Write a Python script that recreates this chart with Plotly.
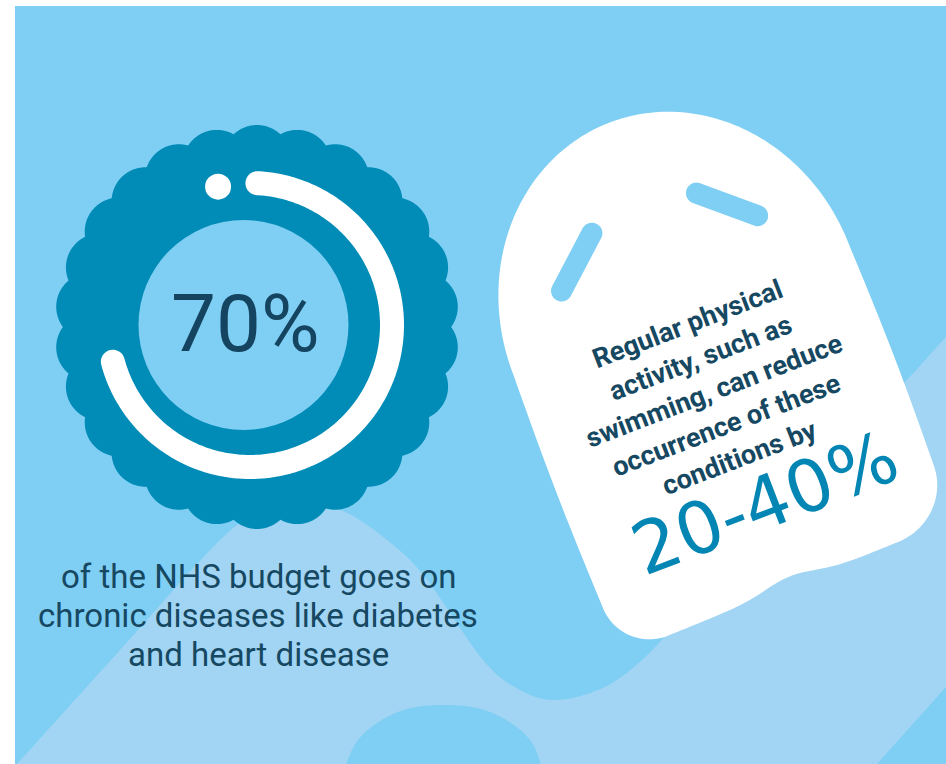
import numpy as np
import plotly.graph_objects as go

# ---------------- data ----------------
nhs_budget_pct = 70                     # share of NHS budget on chronic diseases
reduction_low, reduction_high = 20, 40  # % reduction through regular activity
caption_lines = ["of the NHS budget goes on",
                 "chronic diseases like diabetes",
                 "and heart disease"]
tag_lines = ["Regular physical",
             "activity, such as",
             "swimming, can reduce",
             "occurrence of these",
             "conditions by"]

# ---------------- style ----------------
W, H = 946, 764
BASE = "#7FCEF4"
LIGHT = "#A1D5F3"
DARK_BLUE = "#008CB7"
TEXT_DARK = "#164862"
ACCENT = "#0386B3"


def to_path(pts):
    return "M " + " L ".join(f"{x:.2f},{y:.2f}" for x, y in pts) + " Z"


def catmull_closed(pts, n=20):
    P = np.array(pts, dtype=float)
    m = len(P)
    out = []
    for i in range(m):
        p0, p1, p2, p3 = P[i - 1], P[i], P[(i + 1) % m], P[(i + 2) % m]
        for t in np.linspace(0, 1, n, endpoint=False):
            t2, t3 = t * t, t * t * t
            out.append(0.5 * ((2 * p1) + (-p0 + p2) * t
                              + (2 * p0 - 5 * p1 + 4 * p2 - p3) * t2
                              + (-p0 + 3 * p1 - 3 * p2 + p3) * t3))
    return [tuple(p) for p in out]


shapes = []


def add_path(pts, color, smooth=False):
    if smooth:
        pts = catmull_closed(pts)
    shapes.append(dict(type="path", xref="x", yref="y", path=to_path(pts),
                       fillcolor=color, line=dict(width=0), layer="above"))


# base panel
shapes.append(dict(type="rect", xref="x", yref="y", x0=15, y0=6, x1=W + 5, y1=H + 5,
                   fillcolor=BASE, line=dict(width=0), layer="below"))

# lighter wave region
light_ctrl = [(-40, 827), (17, 764), (120, 650), (220, 540), (262, 512), (303, 503),
              (345, 512), (387, 540), (425, 577), (483, 660), (520, 690), (555, 700),
              (598, 690), (634, 667), (677, 623), (780, 505), (897, 390), (946, 337),
              (1010, 272), (1030, 620), (1000, 627), (946, 687), (877, 764), (818, 830),
              (600, 840), (552, 790), (530, 740), (490, 712), (444, 705), (398, 712),
              (358, 740), (336, 790), (300, 850)]
add_path(light_ctrl, LIGHT, smooth=True)

# scalloped badge
scx, scy, N, Rc, rb = 257, 327, 26, 168, 34
th = np.linspace(0, 2 * np.pi, 2000, endpoint=False)
ak = 2 * np.pi * np.arange(N) / N
d = th[:, None] - ak[None, :]
disc = rb ** 2 - (Rc * np.sin(d)) ** 2
val = np.where(disc >= 0, Rc * np.cos(d) + np.sqrt(np.clip(disc, 0, None)), 0)
r = np.maximum(val.max(axis=1), Rc)
add_path(list(zip(scx + r * np.sin(th), scy - r * np.cos(th))), DARK_BLUE)

# inner disc
icx, icy, ir = 243.5, 325, 105
shapes.append(dict(type="circle", xref="x", yref="y", x0=icx - ir, x1=icx + ir,
                   y0=icy - ir, y1=icy + ir, fillcolor=BASE, line=dict(width=0)))

# progress arc (clockwise from the top) for the percentage
acx, acy, AR, hw = 250, 325, 142, 12
a_start = np.radians(3)
a_end = a_start + np.radians(360 * nhs_budget_pct / 100)


def pol(a, rr):
    return (acx + rr * np.sin(a), acy - rr * np.cos(a))


arc = []
aa = np.linspace(a_start, a_end, 300)
arc += [pol(a, AR + hw) for a in aa]
E = np.array(pol(a_end, AR))
rad = np.array([np.sin(a_end), -np.cos(a_end)])
tan = np.array([np.cos(a_end), np.sin(a_end)])
arc += [tuple(E + hw * (np.cos(p) * rad + np.sin(p) * tan)) for p in np.linspace(0, np.pi, 30)]
arc += [pol(a, AR - hw) for a in aa[::-1]]
S = np.array(pol(a_start, AR))
rad = np.array([np.sin(a_start), -np.cos(a_start)])
tan = np.array([np.cos(a_start), np.sin(a_start)])
arc += [tuple(S + hw * (np.cos(p) * rad - np.sin(p) * tan)) for p in np.linspace(np.pi, 0, 30)]
add_path(arc, "white")

# small dot before the arc start
dx_, dy_ = pol(np.radians(-13), AR)
shapes.append(dict(type="circle", xref="x", yref="y", x0=dx_ - 13, x1=dx_ + 13,
                   y0=dy_ - 13, y1=dy_ + 13, fillcolor="white", line=dict(width=0)))

# ---------------- kickboard tag ----------------
TCX, TCY, PHI = 699, 356, np.radians(21)
cph, sph = np.cos(PHI), np.sin(PHI)


def tr(u, v):
    return (TCX + u * cph + v * sph, TCY - u * sph + v * cph)


HW = 180
loc = []
for t in np.linspace(np.pi, 2 * np.pi, 120):                     # dome
    loc.append((HW * np.cos(t), -50 + 200 * np.sin(t)))
for v in np.linspace(-50, 185, 40):                               # right side
    loc.append((HW + 2 * np.sin(np.pi * (v + 50) / 235), v))
for t in np.linspace(0, np.pi / 2, 30):                           # bottom-right corner
    loc.append((118 + 62 * np.cos(t), 185 + 60 * np.sin(t)))
for u in np.linspace(118, -130, 80):                              # bottom edge
    loc.append((u, 245 + 5 * (118 - u) / 248 - 9 * np.exp(-((u - 5) / 38) ** 2)))
for t in np.linspace(np.pi / 2, np.pi, 30):                       # bottom-left corner
    loc.append((-130 + 50 * np.cos(t), 200 + 50 * np.sin(t)))
for v in np.linspace(200, -50, 40):                               # left side
    loc.append((-HW - 2 * np.sin(np.pi * (v + 50) / 250), v))
add_path([tr(u, v) for u, v in loc], "white")


def capsule(p, q, rr):
    p, q = np.array(p, float), np.array(q, float)
    dvec = (q - p) / np.linalg.norm(q - p)
    n = np.array([-dvec[1], dvec[0]])
    pts = []
    for a in np.linspace(-np.pi / 2, np.pi / 2, 25):
        pts.append(tuple(q + rr * (np.cos(a) * dvec + np.sin(a) * n)))
    for a in np.linspace(np.pi / 2, 3 * np.pi / 2, 25):
        pts.append(tuple(p + rr * (np.cos(a) * dvec + np.sin(a) * n)))
    return pts


for sgn in (-1, 1):
    slot = capsule((sgn * 56, -153), (sgn * 105, -110), 10.5)
    add_path([tr(u, v) for u, v in slot], BASE)

# ---------------- text ----------------
ann = []
ann.append(dict(x=245.5, y=324, text=f"{nhs_budget_pct}%", showarrow=False,
                xanchor="center", yanchor="middle",
                font=dict(family="Roboto", size=80, color="#144460")))
for i, line in enumerate(caption_lines):
    ann.append(dict(x=258, y=576 + 39 * i, text=line, showarrow=False,
                    xanchor="center", yanchor="middle",
                    font=dict(family="Roboto", size=33, color=TEXT_DARK)))
for i, line in enumerate(tag_lines):
    x, y = tr(1, -34 + 36 * i)
    ann.append(dict(x=x, y=y, text=f"<b>{line}</b>", showarrow=False, textangle=-21,
                    xanchor="center", yanchor="middle",
                    font=dict(family="Roboto", size=27, color=TEXT_DARK)))
x, y = tr(9, 161)
ann.append(dict(x=x, y=y, text=f"{reduction_low}-{reduction_high}%", showarrow=False,
                textangle=-21, xanchor="center", yanchor="middle",
                font=dict(family="DejaVu Sans", size=72, color=ACCENT)))

fig = go.Figure()
fig.update_layout(
    width=W, height=H, margin=dict(l=0, r=0, t=0, b=0, pad=0),
    paper_bgcolor="white", plot_bgcolor="white",
    xaxis=dict(range=[0, W], visible=False, fixedrange=True),
    yaxis=dict(range=[H, 0], visible=False, fixedrange=True),
    shapes=shapes, annotations=ann, showlegend=False,
)
fig.write_html("out.html", config={"displayModeBar": False},
               post_script="document.body.style.margin='0';document.body.style.overflow='hidden';")
